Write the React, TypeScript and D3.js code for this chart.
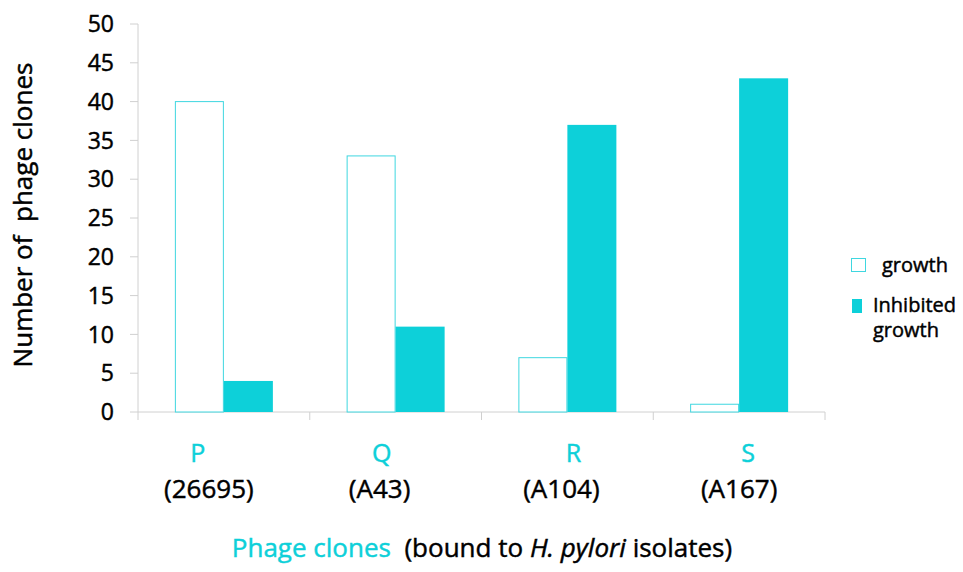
import React from "react";
import * as d3 from "d3";

const categories = ["P", "Q", "R", "S"];
const isolates = ["(26695)", "(A43)", "(A104)", "(A167)"];
const growth = [40, 33, 7, 1];
const inhibited = [4, 11, 37, 43];
const yTicks = [0, 5, 10, 15, 20, 25, 30, 35, 40, 45, 50];
const letterShift = [-26, -14, 6, 9];
const isolateShift = [-15, -16, -6, 0];

const W = 963;
const H = 572;
const CYAN = "#0dd0d9";
const FONT = "'Open Sans', sans-serif";

export default function App() {
  const x0 = d3.scaleBand<string>().domain(categories).range([138, 825]).paddingInner(0).paddingOuter(0);
  const bw = 49;
  const y = d3.scaleLinear().domain([0, 50]).range([412, 24]);
  const axisColor = "#d0d0d0";
  const ink = { fill: "#000", stroke: "#000", strokeWidth: 0.45 };
  const cyanInk = { fill: CYAN, stroke: CYAN, strokeWidth: 0.45 };

  return (
    <svg width={W} height={H} style={{ position: "absolute", left: 0, top: 0, background: "#fff" }} fontFamily={FONT}>
      {/* y axis */}
      <line x1={138} x2={138} y1={y(50)} y2={y(0)} stroke={axisColor} strokeWidth={1} />
      {yTicks.map((t) => (
        <g key={t}>
          <line x1={130} x2={138} y1={y(t)} y2={y(t)} stroke={axisColor} />
          <text x={114} y={y(t)} dy="0.36em" textAnchor="end" fontSize={23} {...ink}>
            {t}
          </text>
        </g>
      ))}
      {/* x axis */}
      <line x1={138} x2={825} y1={y(0)} y2={y(0)} stroke={axisColor} />
      {[...categories.map((c) => x0(c)!), 825].map((px, i) => (
        <line key={i} x1={px} x2={px} y1={y(0)} y2={y(0) + 8} stroke={axisColor} />
      ))}
      {/* bars */}
      {categories.map((c, i) => {
        const cx = x0(c)! + x0.bandwidth() / 2;
        return (
          <g key={c}>
            <rect
              x={cx - bw + 0.5}
              y={y(growth[i])}
              width={bw - 1}
              height={y(0) - y(growth[i])}
              fill="#fff"
              stroke="#3fd7e0"
              strokeWidth={1}
            />
            <rect x={cx} y={y(inhibited[i])} width={bw} height={y(0) - y(inhibited[i])} fill={CYAN} />
          </g>
        );
      })}
      {/* category labels */}
      {categories.map((c, i) => {
        const cx = x0(c)! + x0.bandwidth() / 2;
        return (
          <g key={"l" + c}>
            <text x={cx + letterShift[i]} y={462} textAnchor="middle" fontSize={25} {...cyanInk}>
              {c}
            </text>
            <text x={cx + isolateShift[i]} y={498} textAnchor="middle" fontSize={26} {...ink}>
              {isolates[i]}
            </text>
          </g>
        );
      })}
      {/* y title */}
      <text transform={`translate(32, 215) rotate(-90)`} textAnchor="middle" fontSize={26} {...ink}>
        Number of{"\u00a0\u00a0"}phage clones
      </text>
      {/* x title */}
      <text x={482} y={557} textAnchor="middle" fontSize={26} {...ink}>
        <tspan fill={CYAN} stroke={CYAN}>Phage clones</tspan>
        <tspan>{"\u00a0\u00a0"}(bound to </tspan>
        <tspan fontStyle="italic">H. pylori</tspan>
        <tspan> isolates)</tspan>
      </text>
      {/* legend */}
      <rect x={851.5} y={258.5} width={14} height={13} fill="#fff" stroke="#3fd7e0" />
      <text x={882} y={272} fontSize={20} {...ink}>
        growth
      </text>
      <rect x={852} y={299} width={10} height={14} fill={CYAN} />
      <text x={873} y={312} fontSize={20} {...ink}>
        Inhibited
      </text>
      <text x={873} y={337} fontSize={20} {...ink}>
        growth
      </text>
    </svg>
  );
}
